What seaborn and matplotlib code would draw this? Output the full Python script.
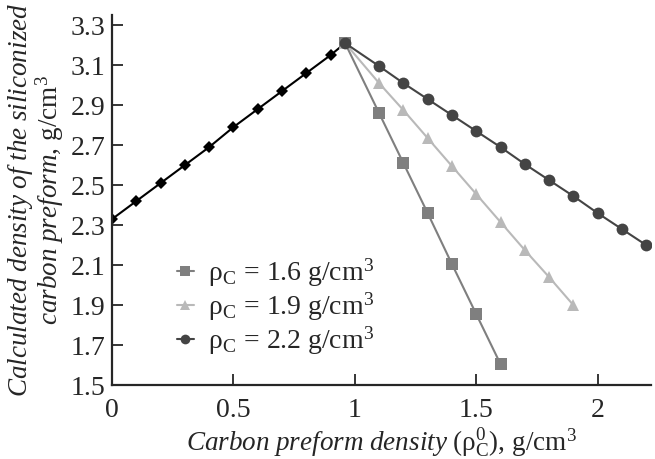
import pandas as pd
import seaborn as sns
import matplotlib.pyplot as plt

# carbon preform density (x) and calculated density of siliconized preform (y)
x_left = [0.0, 0.1, 0.2, 0.3, 0.4, 0.5, 0.6, 0.7, 0.8, 0.9, 0.96]
y_left = [2.33, 2.42, 2.51, 2.60, 2.69, 2.79, 2.88, 2.97, 3.06, 3.15, 3.21]

x_16 = [0.96, 1.1, 1.2, 1.3, 1.4, 1.5, 1.6]
y_16 = [3.21, 2.86, 2.61, 2.36, 2.105, 1.855, 1.605]

x_19 = [0.96, 1.1, 1.2, 1.3, 1.4, 1.5, 1.6, 1.7, 1.8, 1.9]
y_19 = [3.21, 3.01, 2.875, 2.735, 2.595, 2.455, 2.315, 2.175, 2.04, 1.90]

x_22 = [0.96, 1.1, 1.2, 1.3, 1.4, 1.5, 1.6, 1.7, 1.8, 1.9, 2.0, 2.1, 2.2]
y_22 = [3.21, 3.095, 3.01, 2.93, 2.85, 2.77, 2.69, 2.605, 2.525, 2.445, 2.36, 2.28, 2.20]

series_names = ["1.6", "1.9", "2.2"]
legend_labels = [r"$\mathrm{ρ_C\,=\,%s\ g/cm^3}$" % s for s in series_names]

sns.set_style("ticks")
plt.rcParams["font.family"] = ["Liberation Serif", "DejaVu Serif"]
plt.rcParams["mathtext.fontset"] = "custom"
plt.rcParams["mathtext.rm"] = "Liberation Serif"
plt.rcParams["mathtext.it"] = "Liberation Serif:italic"
plt.rcParams["mathtext.bf"] = "Liberation Serif:bold"

df_left = pd.DataFrame({"x": x_left, "y": y_left})
df_right = pd.concat([
    pd.DataFrame({"x": x_16, "y": y_16, "rho": "1.6"}),
    pd.DataFrame({"x": x_19, "y": y_19, "rho": "1.9"}),
    pd.DataFrame({"x": x_22, "y": y_22, "rho": "2.2"}),
], ignore_index=True)

fig = plt.figure(figsize=(6.55, 4.59), dpi=100)
ax = fig.add_axes([0.171, 0.161, 0.823, 0.806])

sns.lineplot(data=df_left, x="x", y="y", color="black", marker="D",
             markersize=6.5, markeredgewidth=0, linewidth=1.5, ax=ax, legend=False)

palette = {"1.6": "#7f7f7f", "1.9": "#b9b9b9", "2.2": "#444444"}
markers = {"1.6": "s", "1.9": "^", "2.2": "o"}
sns.lineplot(data=df_right, x="x", y="y", hue="rho", style="rho",
             hue_order=series_names, style_order=series_names,
             palette=palette, markers=markers, dashes=False,
             markersize=8.5, markeredgewidth=0, linewidth=1.5, ax=ax)

handles, labels = ax.get_legend_handles_labels()
for h in handles:
    h.set_markersize(7)
ax.legend(handles[-3:], legend_labels, loc="upper left",
          bbox_to_anchor=(0.1, 0.378), frameon=False, fontsize=20,
          handlelength=0.6, handletextpad=0.5, labelspacing=0.05,
          borderaxespad=0)

ax.set_xlim(0, 2.22)
ax.set_ylim(1.5, 3.35)
ax.set_xticks([0, 0.5, 1, 1.5, 2])
ax.set_xticklabels(["0", "0.5", "1", "1.5", "2"])
ax.set_yticks([1.5, 1.7, 1.9, 2.1, 2.3, 2.5, 2.7, 2.9, 3.1, 3.3])
ax.set_yticklabels(["1.5", "1.7", "1.9", "2.1", "2.3", "2.5", "2.7", "2.9", "3.1", "3.3"])
ax.tick_params(direction="in", length=8, width=1.3, labelsize=20, pad=5)
ax.tick_params(axis="x", pad=9)
sns.despine(ax=ax)
for sp in ["left", "bottom"]:
    ax.spines[sp].set_linewidth(1.6)

ax.set_xlabel(r"$\mathit{Carbon\ preform\ density}\ \mathrm{(ρ^0_C),\,g/cm^3}$",
              fontsize=19.5, labelpad=3)
ax.set_ylabel(r"$\mathit{Calculated\ density\ of\ the\ siliconized}$" + "\n"
              + r"$\mathit{carbon\ preform},\,\mathrm{g/cm^3}$",
              fontsize=19.5, labelpad=3, linespacing=0.95)

fig.savefig("out.png", dpi=100)
